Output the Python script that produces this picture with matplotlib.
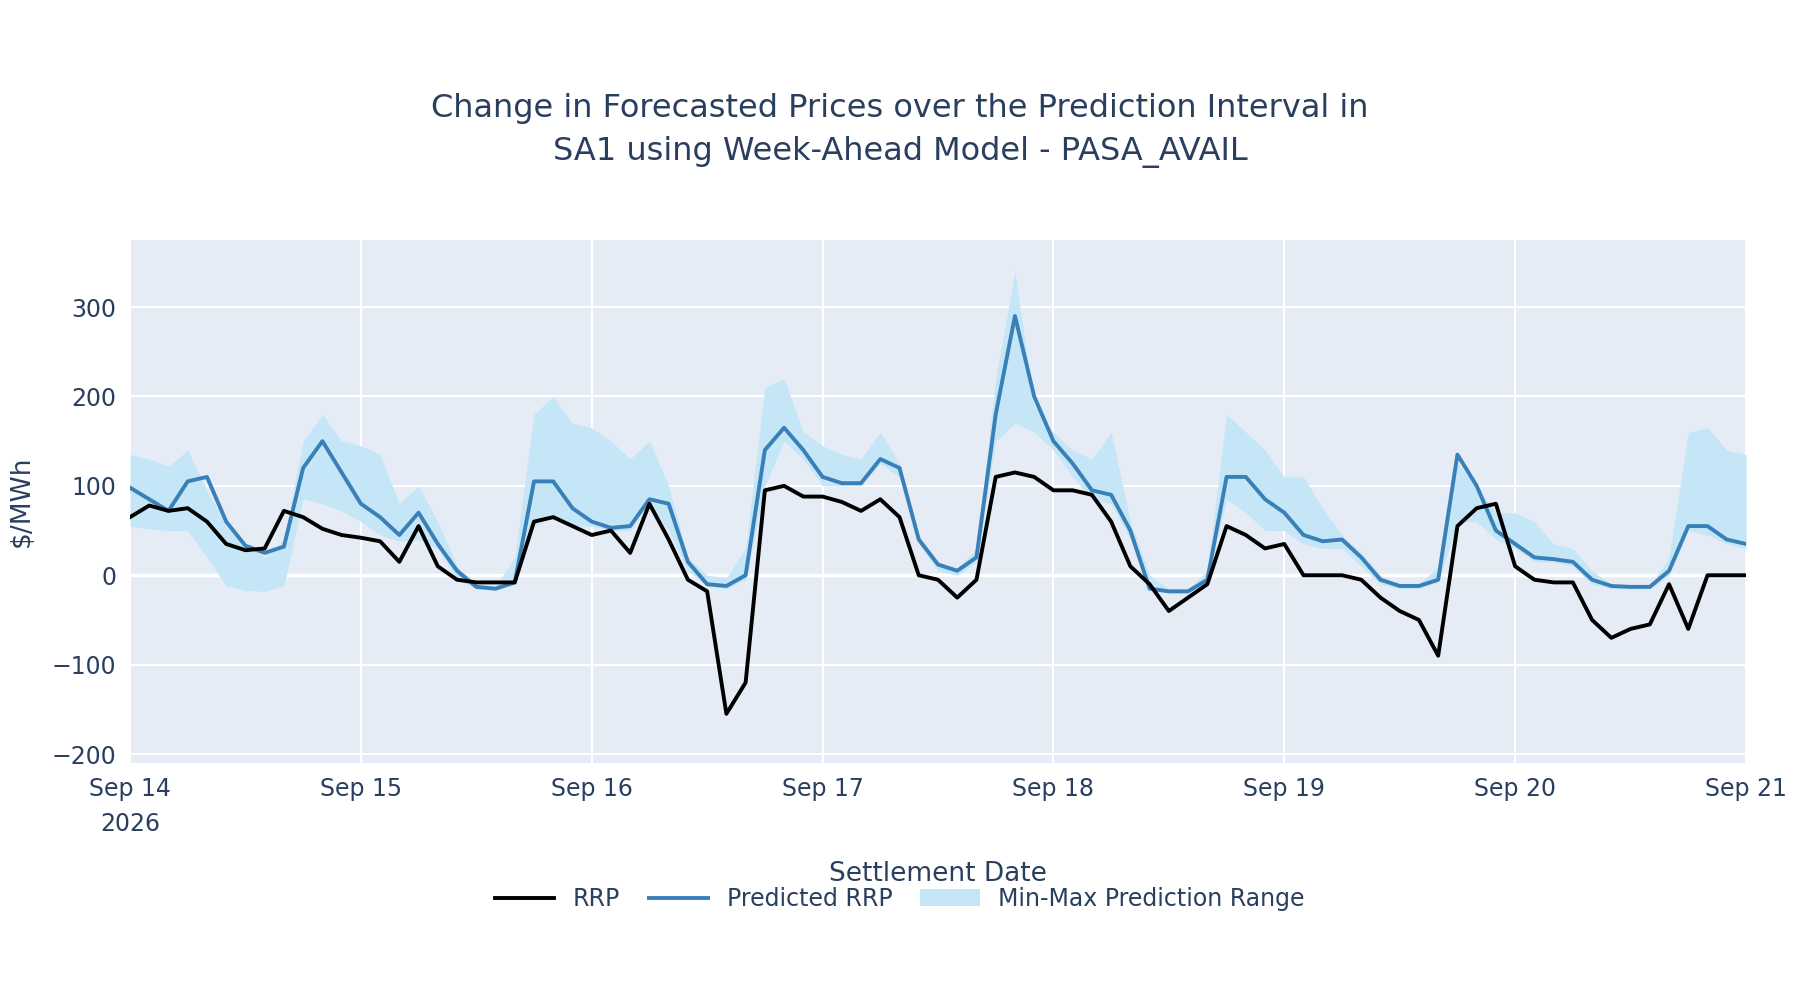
import matplotlib
matplotlib.use("Agg")
import matplotlib.pyplot as plt
import matplotlib.dates as mdates
import numpy as np
import pandas as pd

times = pd.date_range("2026-09-14 00:00", "2026-09-21 00:00", freq="2h")

rrp = [65, 78, 72, 75, 60, 35, 28, 30, 72, 65, 52, 45,
       42, 38, 15, 55, 10, -5, -8, -8, -8, 60, 65, 55,
       45, 50, 25, 80, 40, -5, -18, -155, -120, 95, 100, 88,
       88, 82, 72, 85, 65, 0, -5, -25, -5, 110, 115, 110,
       95, 95, 90, 60, 10, -10, -40, -25, -10, 55, 45, 30,
       35, 0, 0, 0, -5, -25, -40, -50, -90, 55, 75, 80,
       10, -5, -8, -8, -50, -70, -60, -55, -10, -60, 0, 0, 0]
pred = [98, 85, 72, 105, 110, 60, 33, 25, 32, 120, 150, 115,
        80, 65, 45, 70, 35, 5, -13, -15, -8, 105, 105, 75,
        60, 53, 55, 85, 80, 15, -10, -12, 0, 140, 165, 140,
        110, 103, 103, 130, 120, 40, 12, 5, 20, 180, 290, 200,
        150, 125, 95, 90, 50, -15, -18, -18, -5, 110, 110, 85,
        70, 45, 38, 40, 20, -5, -12, -12, -5, 135, 100, 50,
        35, 20, 18, 15, -5, -12, -13, -13, 5, 55, 55, 40, 35]
pmax = [135, 130, 122, 140, 95, 55, 35, 20, 40, 150, 180, 150,
        145, 135, 80, 100, 60, 10, -10, -12, 20, 180, 200, 170,
        165, 150, 130, 150, 100, 20, 0, -3, 30, 210, 220, 160,
        145, 135, 130, 160, 125, 45, 15, 8, 30, 220, 340, 190,
        160, 140, 130, 160, 60, 0, -15, -15, 5, 180, 160, 140,
        110, 110, 75, 45, 25, 0, -10, -10, 10, 125, 100, 70,
        70, 60, 35, 30, 5, -10, -12, -12, 20, 160, 165, 140, 135]
pmin = [55, 52, 50, 50, 20, -12, -17, -18, -12, 85, 80, 72,
        60, 45, 38, 40, 30, -5, -15, -17, -10, 55, 65, 55,
        55, 50, 50, 80, 50, 5, -12, -15, -5, 100, 150, 130,
        100, 100, 100, 125, 110, 35, 5, 0, 15, 150, 170, 160,
        140, 110, 85, 80, 40, -15, -20, -20, -5, 85, 70, 50,
        50, 35, 30, 30, 10, -10, -15, -15, -8, 60, 60, 40,
        30, 15, 15, 10, -10, -15, -15, -15, 0, 50, 45, 35, 30]

fig = plt.figure(figsize=(18, 10), dpi=100)
ax = fig.add_axes([130/1800, 1-763/1000, (1746-130)/1800, (763-240)/1000])
ax.set_facecolor("#E5ECF6")
ax.fill_between(times, pmin, pmax, color="#C5E6F7", lw=0, label="Min-Max Prediction Range", zorder=2)
ax.plot(times, rrp, color="black", lw=2.8, label="RRP", zorder=4)
ax.plot(times, pred, color="#3A80B8", lw=2.8, label="Predicted RRP", zorder=3)
ax.set_xlim(times[0], times[-1])
ax.set_ylim(-210, 375)
ax.set_yticks([-200, -100, 0, 100, 200, 300])
ax.set_yticklabels(["\u2212200", "\u2212100", "0", "100", "200", "300"])
ax.xaxis.set_major_locator(mdates.DayLocator())
labels = [d.strftime("Sep %-d") for d in pd.date_range("2026-09-14", "2026-09-21")]
labels[0] = "Sep 14\n2026"
ax.set_xticks(pd.date_range("2026-09-14", "2026-09-21"))
ax.set_xticklabels(labels, ha="center", va="top", linespacing=1.6)
ax.grid(True, color="white", lw=1.5, zorder=1)
ax.axhline(0, color="white", lw=2.5, zorder=1)
for s in ax.spines.values():
    s.set_visible(False)
ax.tick_params(length=0, labelsize=17, colors="#2A3F5F", pad=10)
ax.set_ylabel("$/MWh", fontsize=19, color="#2A3F5F", labelpad=12)
ax.set_xlabel("Settlement Date", fontsize=19, color="#2A3F5F", labelpad=18)
fig.text(0.5, 0.87, "Change in Forecasted Prices over the Prediction Interval in\nSA1 using Week-Ahead Model - PASA_AVAIL",
         ha="center", va="center", fontsize=23, color="#2A3F5F", linespacing=1.5)
h, l = ax.get_legend_handles_labels()
order = [1, 2, 0]
fig.legend([h[i] for i in order], [l[i] for i in order], loc="center", bbox_to_anchor=(0.5, 0.101),
           ncol=3, frameon=False, fontsize=17, labelcolor="#2A3F5F", handlelength=2.5, columnspacing=1.2)
fig.savefig("out.png", dpi=100, facecolor="white")
